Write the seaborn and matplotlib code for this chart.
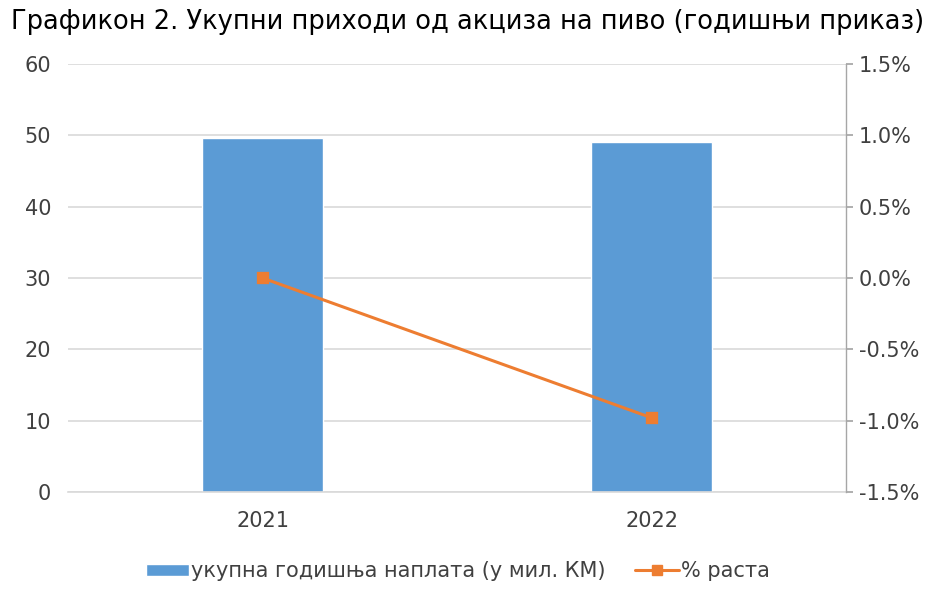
import numpy as np
import pandas as pd
import seaborn as sns
import matplotlib.pyplot as plt
from matplotlib.patches import Patch
from matplotlib.lines import Line2D
from matplotlib.ticker import PercentFormatter

years = ["2021", "2022"]
naplata = [49.6, 49.1]      # укупна годишња наплата (у мил. КМ)
rast = [0.0, -0.98]         # % раста

sns.set_theme(style="white")
plt.rcParams['font.family'] = ['DejaVu Sans']
plt.rcParams['axes.unicode_minus'] = False

df = pd.DataFrame({"god": years, "naplata": naplata, "rast": rast})

fig = plt.figure(figsize=(9.34, 5.96), dpi=100)
ax = fig.add_axes([0.0728, 0.1745, 0.906 - 0.0728, 0.8926 - 0.1745])

blue = "#5b9bd5"
orange = "#ed7d31"
grid = "#d9d9d9"

sns.barplot(data=df, x="god", y="naplata", color=blue, width=0.31,
            saturation=1, ax=ax, zorder=2)
ax.set_ylim(0, 60)
ax.set_yticks(range(0, 61, 10))
ax.set_xlim(-0.5, 1.5)
ax.set_xlabel("")
ax.set_ylabel("")
ax.yaxis.grid(True, color=grid, linewidth=1.2, zorder=0)
ax.set_axisbelow(True)
for s in ["left", "top", "right"]:
    ax.spines[s].set_visible(False)
ax.spines["bottom"].set_color(grid)
ax.spines["bottom"].set_linewidth(1.2)
ax.tick_params(axis="both", length=0, labelsize=15, colors="#404040", pad=12)
ax.tick_params(axis="x", pad=14)

ax2 = ax.twinx()
sns.pointplot(data=df, x="god", y="rast", color=orange, markers="s",
              markersize=7, linewidth=2.2, ax=ax2)
ax2.set_ylim(-1.5, 1.5)
ax2.set_yticks(np.arange(-1.5, 1.51, 0.5))
ax2.yaxis.set_major_formatter(PercentFormatter(decimals=1))
ax2.set_xlim(-0.5, 1.5)
ax2.set_ylabel("")
ax2.set_xlabel("")
for s in ["left", "top", "bottom"]:
    ax2.spines[s].set_visible(False)
ax2.spines["right"].set_color("#a6a6a6")
ax2.spines["right"].set_linewidth(1.0)
ax2.tick_params(axis="y", length=5, direction="out", color="#a6a6a6",
                labelsize=15, labelcolor="#404040", pad=4)

fig.text(0.012, 0.952, "Графикон 2. Укупни приходи од акциза на пиво (годишњи приказ)",
         fontsize=18.5, color="#000000")

handles = [Patch(facecolor=blue, label="укупна годишња наплата (у мил. КМ)"),
           Line2D([0], [0], color=orange, marker="s", markersize=7, linewidth=2.2,
                  label="% раста")]
fig.legend(handles=handles, loc="center", bbox_to_anchor=(0.49, 0.042), ncol=2,
           frameon=False, fontsize=15, handlelength=2.1, handleheight=0.5,
           handletextpad=0.1, columnspacing=1.4, labelcolor="#404040")

fig.savefig("out.png", dpi=100)
